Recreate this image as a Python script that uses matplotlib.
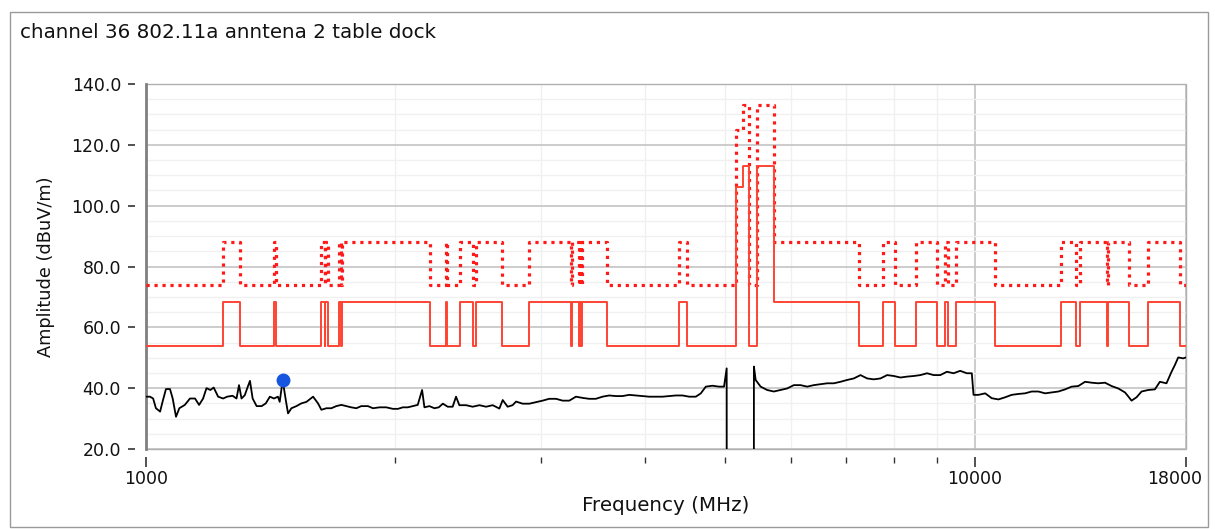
import matplotlib
matplotlib.use("Agg")
import matplotlib.pyplot as plt
import matplotlib.transforms as mtransforms
from matplotlib.patches import Rectangle
from matplotlib.ticker import FixedLocator, FuncFormatter, NullFormatter

plt.rcParams['font.family'] = ['DejaVu Sans']

title = "channel 36 802.11a anntena 2 table dock"
x_label = "Frequency (MHz)"
y_label = "Amplitude (dBuV/m)"

# Limit lines: step breakpoints (MHz) and levels starting at each breakpoint
limit_freq = [1000, 1240, 1300, 1427, 1435, 1626.5, 1645.5, 1646.5, 1660, 1710,
              1718.8, 1722.2, 2200, 2300, 2310, 2390, 2483.5, 2500, 2690, 2900,
              3260, 3267, 3332, 3339, 3345.8, 3358, 3600, 4400, 4500, 5150,
              5250, 5350, 5460, 5725, 7250, 7750, 8025, 8500, 9000, 9200,
              9300, 9500, 10600, 12700, 13250, 13400, 14470, 14500, 15350, 16200,
              17700, 18000]
avg_limit = [54, 68.2, 54, 68.2, 54, 68.2, 54, 68.2, 54, 68.2,
             54, 68.2, 54, 68.2, 54, 68.2, 54, 68.2, 54, 68.2,
             54, 68.2, 54, 68.2, 54, 68.2, 54, 68.2, 54, 106,
             113, 54, 113, 68.2, 54, 68.2, 54, 68.2, 54, 68.2,
             54, 68.2, 54, 68.2, 54, 68.2, 54, 68.2, 54, 68.2,
             54, 54]
peak_limit = [74, 88.2, 74, 88.2, 74, 88.2, 74, 88.2, 74, 88.2,
              74, 88.2, 74, 88.2, 74, 88.2, 74, 88.2, 74, 88.2,
              74, 88.2, 74, 88.2, 74, 88.2, 74, 88.2, 74, 125,
              133, 74, 133, 88.2, 74, 88.2, 74, 88.2, 74, 88.2,
              74, 88.2, 74, 88.2, 74, 88.2, 74, 88.2, 74, 88.2,
              74, 74]

# Measured trace (MHz, dBuV/m)
trace_freq = [1000, 1011, 1020, 1028, 1040, 1047, 1057, 1069, 1077, 1087,
              1097, 1114, 1130, 1146, 1159, 1172, 1183, 1196, 1207, 1222,
              1239, 1253, 1272, 1286, 1295, 1304, 1316, 1325, 1335, 1345,
              1360, 1379, 1395, 1411, 1427, 1443, 1450, 1462, 1475, 1484,
              1498, 1519, 1540, 1562, 1591, 1613, 1628, 1651, 1674, 1697,
              1721, 1745, 1769, 1794, 1819, 1853, 1879, 1914, 1950, 1986,
              2014, 2042, 2070, 2099, 2128, 2154, 2168, 2198, 2229, 2256,
              2282, 2313, 2345, 2367, 2389, 2434, 2479, 2526, 2573, 2621,
              2670, 2695, 2732, 2770, 2797, 2848, 2902, 2956, 3011, 3067,
              3125, 3183, 3243, 3303, 3365, 3427, 3491, 3556, 3623, 3691,
              3759, 3830, 3902, 3974, 4049, 4125, 4202, 4280, 4360, 4442,
              4525, 4609, 4674, 4739, 4827, 4916, 4985, 5022, 5023, 5416,
              5417, 5443, 5519, 5620, 5725, 5833, 5941, 6052, 6166, 6281,
              6398, 6518, 6640, 6764, 6891, 7019, 7150, 7284, 7420, 7559,
              7700, 7844, 7991, 8140, 8291, 8446, 8604, 8764, 8926, 9093,
              9262, 9434, 9610, 9789, 9925, 9973, 10111, 10301, 10491, 10687,
              10889, 11089, 11298, 11508, 11722, 11943, 12167, 12391, 12624, 12862,
              13099, 13345, 13597, 13846, 14107, 14372, 14636, 14912, 15193, 15330,
              15472, 15688, 15909, 16205, 16509, 16739, 17050, 17291, 17452, 17614,
              17860, 18000]
trace_level = [37.2, 37.2, 36.6, 33.4, 32.3, 35.5, 39.7, 39.7, 36.6, 30.6,
               33.4, 34.5, 36.6, 36.6, 34.5, 36.6, 40.0, 39.4, 40.2, 37.2,
               36.6, 37.2, 37.5, 36.6, 41.0, 36.6, 37.7, 40.0, 42.4, 36.6,
               34.1, 34.1, 35.0, 37.2, 36.6, 37.2, 35.5, 42.6, 36.0, 31.7,
               33.4, 34.1, 35.0, 35.5, 37.2, 35.0, 32.9, 33.4, 33.4, 34.1,
               34.5, 34.1, 33.7, 33.4, 34.1, 34.1, 33.4, 33.7, 33.7, 33.2,
               33.2, 33.7, 33.7, 34.1, 34.5, 39.4, 33.7, 34.1, 33.4, 33.7,
               34.9, 33.9, 33.9, 37.2, 34.4, 34.4, 33.9, 34.4, 33.9, 34.4,
               33.3, 36.1, 33.9, 34.4, 35.6, 34.9, 34.9, 35.4, 35.9, 36.5,
               36.5, 35.9, 35.9, 37.2, 36.8, 36.5, 36.5, 37.2, 37.6, 37.4,
               37.4, 37.8, 37.6, 37.4, 37.2, 37.2, 37.2, 37.4, 37.6, 37.6,
               37.2, 37.2, 38.3, 40.5, 40.8, 40.5, 40.5, 46.5, 0.0, 0.0,
               47.1, 42.7, 40.5, 39.4, 38.9, 39.4, 39.9, 41.0, 41.0, 40.5,
               41.0, 41.3, 41.6, 41.6, 42.1, 42.7, 43.2, 44.3, 43.2, 42.9,
               43.2, 44.3, 44.0, 43.5, 43.8, 44.0, 44.3, 44.9, 44.3, 44.3,
               45.4, 44.9, 45.7, 44.9, 44.9, 37.8, 37.8, 38.3, 36.7, 36.3,
               37.0, 37.8, 38.1, 38.3, 38.9, 38.9, 38.3, 38.6, 38.9, 39.6,
               40.5, 40.7, 42.1, 41.8, 41.6, 41.8, 40.7, 39.9, 38.6, 37.3,
               35.9, 37.0, 38.9, 39.4, 39.6, 42.1, 41.6, 45.4, 47.6, 50.1,
               49.8, 50.1]

marker_freq = [1462]
marker_level = [42.6]

y_major = [20, 40, 60, 80, 100, 120, 140]
y_minor = list(range(20, 141, 5))
x_major = [1000, 10000, 18000]
x_minor = [2000, 3000, 4000, 5000, 6000, 7000, 8000, 9000]

W, H = 1215, 529
fig = plt.figure(figsize=(W / 100, H / 100), dpi=100)
fig.patch.set_facecolor('white')
ax = fig.add_axes([146 / W, 80 / H, 1040 / W, 365 / H])

ax.set_xscale('log')
ax.set_xlim(1000, 18000)
ax.set_ylim(20, 140)

ax.yaxis.set_major_locator(FixedLocator(y_major))
ax.yaxis.set_minor_locator(FixedLocator(y_minor))
ax.xaxis.set_major_locator(FixedLocator(x_major))
ax.xaxis.set_minor_locator(FixedLocator(x_minor))
ax.xaxis.set_major_formatter(FuncFormatter(lambda v, p: f"{int(round(v))}"))
ax.xaxis.set_minor_formatter(NullFormatter())
ax.yaxis.set_major_formatter(FuncFormatter(lambda v, p: f"{v:.1f}"))

ax.grid(which='minor', axis='both', color='#f0f0f0', lw=1.0)
ax.grid(which='major', axis='both', color='#c4c4c4', lw=1.2)
ax.set_axisbelow(True)

for s in ax.spines.values():
    s.set_color('none')
ax.spines['bottom'].set_position(('outward', 6))
ax.spines['left'].set_position(('outward', 8))

ax.tick_params(axis='x', which='major', length=7, width=1.2, color='#333333',
               labelsize=12.5, pad=2, labelcolor='#111111')
ax.tick_params(axis='x', which='minor', length=4, width=1.0, color='#333333')
ax.tick_params(axis='y', which='major', length=5, width=1.2, color='#333333',
               labelsize=12.5, pad=5, labelcolor='#111111')
ax.tick_params(axis='y', which='minor', length=0)

ax.add_patch(Rectangle((0, 0), 1, 1, transform=ax.transAxes, fill=False,
                       edgecolor='#b0b0b0', lw=1.0, zorder=1.5, clip_on=False))
ax.plot([0, 0], [0, 1], transform=ax.transAxes, color='#808080', lw=2.0,
        zorder=1.6, clip_on=False)

ax.step(limit_freq, peak_limit, where='post', color='#ff1a1a', lw=2.3,
        linestyle=(0, (1.0, 1.5)), zorder=3)
ax.step(limit_freq, avg_limit, where='post', color='#ff4433', lw=1.4, zorder=3)
ax.plot(trace_freq, trace_level, color='black', lw=1.3, zorder=4)
ax.plot(marker_freq, marker_level, 'o', color='#1555e0', markersize=9, zorder=5)

ax.set_xlabel(x_label, fontsize=14.3, labelpad=6, color='#111111')
ax.set_ylabel(y_label, fontsize=12.8, labelpad=12, color='#111111')

fig.canvas.draw()
labels = ax.get_xticklabels()
shift = mtransforms.ScaledTranslation(-11 / 100, 0, fig.dpi_scale_trans)
labels[-1].set_transform(labels[-1].get_transform() + shift)

fig.text(20 / W, 1 - 32 / H, title, fontsize=14.3, va='center', ha='left',
         color='#111111')

fig.patches.append(Rectangle((10 / W, 2 / H), 1198 / W, 515 / H,
                             transform=fig.transFigure, fill=False,
                             edgecolor='#9a9a9a', lw=1.0))

fig.savefig('out.png', dpi=100)
